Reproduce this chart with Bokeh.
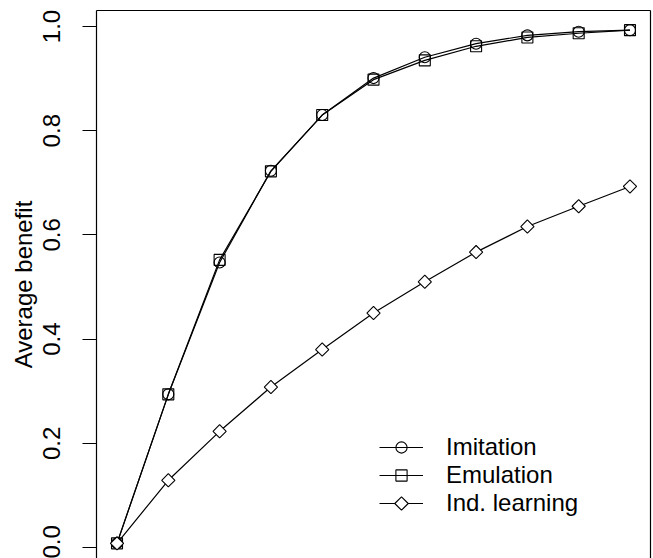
import math
from bokeh.plotting import figure
from bokeh.models import (Range1d, FixedTicker, LinearAxis, Legend, LegendItem,
                          CustomJSTickFormatter, CustomJS)
from bokeh.embed import file_html
from bokeh.resources import INLINE

# ---- data ----
steps = [0, 1, 2, 3, 4, 5, 6, 7, 8, 9, 10]
imitation = [0.008, 0.294, 0.547, 0.723, 0.830, 0.901, 0.941, 0.967, 0.983, 0.990, 0.993]
emulation = [0.008, 0.294, 0.552, 0.722, 0.830, 0.898, 0.935, 0.962, 0.979, 0.987, 0.993]
ind_learning = [0.008, 0.129, 0.223, 0.308, 0.380, 0.450, 0.510, 0.567, 0.616, 0.655, 0.693]
y_ticks = [0.0, 0.2, 0.4, 0.6, 0.8, 1.0]
series_names = ["Imitation", "Emulation", "Ind. learning"]
y_label = "Average benefit"

FONT = "Liberation Sans"
FS = "24px"

p = figure(width=653, height=558, output_backend="svg", toolbar_location=None,
           x_range=Range1d(-0.4, 10.4), y_range=Range1d(-0.0211, 1.0307),
           x_axis_location=None, min_border_left=96, min_border_right=3,
           min_border_top=10, min_border_bottom=0)
p.outline_line_color = None
p.xgrid.visible = False
p.ygrid.visible = False
p.background_fill_color = "white"
p.border_fill_color = "white"

ya = p.yaxis[0]
ya.ticker = FixedTicker(ticks=y_ticks)
ya.formatter = CustomJSTickFormatter(code="return tick.toFixed(1);")
ya.major_label_orientation = "vertical"
ya.major_label_text_font = FONT
ya.major_label_text_font_size = FS
ya.major_label_text_color = "black"
ya.major_label_standoff = 22
ya.major_tick_out = 14
ya.major_tick_in = 0
ya.minor_tick_out = 0
ya.minor_tick_in = 0
ya.axis_line_color = "black"
ya.axis_line_width = 1.2
ya.major_tick_line_color = "black"
ya.major_tick_line_width = 1
ya.axis_label = y_label
ya.axis_label_text_font = FONT
ya.axis_label_text_font_size = FS
ya.axis_label_text_font_style = "normal"
ya.axis_label_text_color = "black"
ya.axis_label_standoff = 4

for loc in ("above", "right"):
    ax = LinearAxis(ticker=FixedTicker(ticks=[]), axis_line_color="black",
                    axis_line_width=1.2, major_tick_out=0, major_tick_in=0,
                    minor_tick_out=0, minor_tick_in=0, major_label_standoff=0,
                    major_label_text_font_size="0px", axis_label=None)
    p.add_layout(ax, loc)

diamond_js = CustomJS(code="""
export default (args, obj, {ctx, i, r, visuals}) => {
    const h = r * 1.2
    ctx.beginPath()
    ctx.moveTo(0, -h)
    ctx.lineTo(h, 0)
    ctx.lineTo(0, h)
    ctx.lineTo(-h, 0)
    ctx.closePath()
    visuals.fill.apply(ctx, i)
    visuals.line.apply(ctx, i)
}
""")

lw = 1.2
l1 = p.line(steps, imitation, line_color="black", line_width=lw)
m1 = p.scatter(steps, imitation, marker="circle", size=11, fill_color=None,
               line_color="black", line_width=1.1)
l2 = p.line(steps, emulation, line_color="black", line_width=lw)
m2 = p.scatter(steps, emulation, marker="square", size=11, fill_color=None,
               line_color="black", line_width=1.1)
l3 = p.line(steps, ind_learning, line_color="black", line_width=lw)
m3 = p.scatter(steps, ind_learning, marker="@sqdiamond", defs={"@sqdiamond": diamond_js},
               size=11, fill_color="white", line_color="black", line_width=1.1)

legend = Legend(items=[LegendItem(label=series_names[0], renderers=[l1, m1]),
                       LegendItem(label=series_names[1], renderers=[l2, m2]),
                       LegendItem(label=series_names[2], renderers=[l3, m3])],
                location=(283, 41), orientation="vertical",
                glyph_width=44, glyph_height=28, label_height=28,
                label_standoff=23, spacing=0, padding=0, margin=0,
                border_line_color=None, background_fill_alpha=0,
                label_text_font=FONT, label_text_font_size=FS,
                label_text_color="black")
p.add_layout(legend, "center")

open("out.html", "w").write(file_html(p, INLINE))
